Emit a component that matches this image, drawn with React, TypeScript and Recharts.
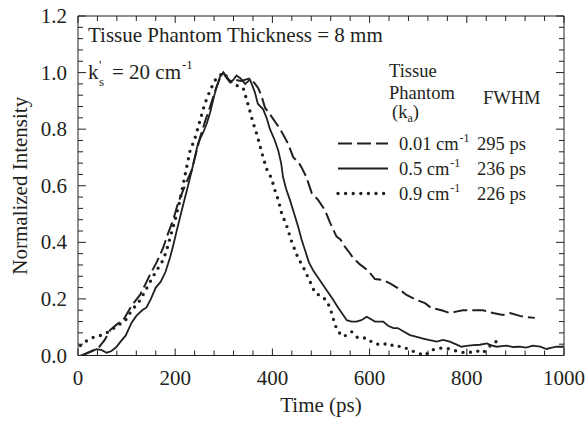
import { Line, LineChart, XAxis, YAxis } from "recharts";

// Time-resolved pulse profiles, three absorption levels.
const lowAbs: [number, number][] = [
  [8, 0], [20, 0.01], [41, 0.025], [55, 0.055], [66, 0.09], [80, 0.11], [93, 0.125],
  [110, 0.175], [128, 0.215], [148, 0.285], [162, 0.33], [175, 0.38], [185, 0.43],
  [196, 0.48], [206, 0.54], [220, 0.6], [234, 0.655], [251, 0.77], [262, 0.83],
  [272, 0.88], [285, 0.95], [292, 0.98], [299, 1.0], [306, 0.985], [313, 0.97],
  [322, 0.975], [335, 0.97], [345, 0.975], [355, 0.98], [362, 0.965], [371, 0.945],
  [378, 0.915], [385, 0.875], [398, 0.845], [408, 0.82], [416, 0.8], [432, 0.75],
  [443, 0.7], [453, 0.685], [460, 0.665], [470, 0.63], [481, 0.574], [494, 0.55],
  [508, 0.514], [519, 0.468], [532, 0.42], [540, 0.41], [549, 0.385], [558, 0.365],
  [566, 0.345], [580, 0.322], [597, 0.3], [611, 0.27], [628, 0.267], [642, 0.255],
  [658, 0.238], [676, 0.214], [697, 0.196], [714, 0.185], [727, 0.168], [748, 0.16],
  [765, 0.15], [778, 0.155], [792, 0.16], [813, 0.16], [833, 0.16], [854, 0.15],
  [874, 0.143], [889, 0.15], [909, 0.14], [925, 0.135], [940, 0.133]
];

const midAbs: [number, number][] = [
  [5, 0], [20, 0.008], [38, 0.022], [48, 0.02], [59, 0.01], [68, 0.015], [78, 0.028],
  [88, 0.05], [98, 0.07], [110, 0.115], [120, 0.14], [132, 0.16], [141, 0.17],
  [150, 0.2], [160, 0.24], [170, 0.26], [180, 0.295], [190, 0.35], [196, 0.39],
  [203, 0.44], [213, 0.51], [225, 0.59], [235, 0.66], [247, 0.75], [258, 0.79],
  [265, 0.82], [272, 0.86], [282, 0.93], [292, 0.985], [299, 1.0], [306, 0.98],
  [313, 0.965], [320, 0.975], [326, 0.99], [334, 0.98], [344, 0.96], [354, 0.975],
  [364, 0.93], [370, 0.89], [381, 0.87], [388, 0.84], [395, 0.8], [405, 0.76],
  [412, 0.725], [418, 0.68], [422, 0.63], [428, 0.59], [436, 0.55], [445, 0.5],
  [453, 0.455], [460, 0.41], [467, 0.373], [475, 0.33], [484, 0.3], [498, 0.265],
  [512, 0.23], [524, 0.2], [535, 0.17], [545, 0.145], [553, 0.125], [563, 0.12],
  [573, 0.12], [583, 0.125], [594, 0.137], [603, 0.128], [611, 0.12], [620, 0.12],
  [628, 0.12], [638, 0.105], [649, 0.097], [658, 0.097], [670, 0.085], [683, 0.072],
  [697, 0.066], [710, 0.06], [724, 0.054], [738, 0.049], [751, 0.055], [765, 0.049],
  [777, 0.04], [789, 0.031], [800, 0.034], [813, 0.037], [827, 0.038], [841, 0.043],
  [851, 0.036], [861, 0.031], [872, 0.033], [882, 0.035], [895, 0.03], [909, 0.031],
  [922, 0.028], [936, 0.035], [951, 0.031], [964, 0.023], [975, 0.028], [985, 0.031],
  [1000, 0.031]
];

const highAbs: [number, number][] = [
  [5, 0.035], [10, 0.044], [28, 0.062], [45, 0.07], [59, 0.08], [72, 0.095],
  [85, 0.11], [96, 0.12], [107, 0.15], [118, 0.175], [128, 0.196], [141, 0.237],
  [158, 0.29], [175, 0.337], [182, 0.37], [190, 0.42], [200, 0.48], [210, 0.55],
  [220, 0.635], [230, 0.72], [241, 0.77], [251, 0.83], [261, 0.89], [272, 0.938],
  [282, 0.973], [292, 0.99], [300, 1.0], [308, 0.98], [319, 0.96], [333, 0.95],
  [340, 0.945], [347, 0.905], [354, 0.862], [360, 0.824], [368, 0.782], [374, 0.744],
  [381, 0.7], [388, 0.66], [398, 0.627], [405, 0.585], [412, 0.55], [419, 0.503],
  [430, 0.455], [440, 0.4], [453, 0.344], [463, 0.314], [474, 0.274], [488, 0.22],
  [504, 0.208], [514, 0.186], [522, 0.15], [529, 0.108], [535, 0.085], [546, 0.066],
  [563, 0.084], [576, 0.062], [594, 0.062], [607, 0.044], [625, 0.037], [638, 0.044],
  [652, 0.031], [666, 0.033], [683, 0.019], [697, 0.01], [714, 0], [727, 0.019],
  [745, 0.026], [758, 0.026], [772, 0.019], [787, 0.012], [802, 0.009], [820, 0.017],
  [833, 0.009], [854, 0.044], [868, 0.055]
];

const xLabels = [0, 200, 400, 600, 800, 1000];
const yLabels = [0, 0.2, 0.4, 0.6, 0.8, 1.0, 1.2];
const xMinor = Array.from({ length: 26 }, (_, i) => i * 40);
const yMinor = Array.from({ length: 31 }, (_, i) => (i * 4) / 100);

const legendRows = [
  { ka: "0.01 cm", fwhm: "295 ps", dash: "14 5", width: 2, cap: "butt" },
  { ka: "0.5 cm", fwhm: "236 ps", dash: undefined, width: 2, cap: "butt" },
  { ka: "0.9 cm", fwhm: "226 ps", dash: "0 7.6", width: 3.4, cap: "round" }
];

const INK = "#231f20";
const FONT = "Liberation Serif, Times New Roman, DejaVu Serif, serif";

const toRows = (pts: [number, number][]) => pts.map(([t, v]) => ({ t, v }));

const isLabel = (v: number, labels: number[]) => labels.some((l) => Math.abs(l - v) < 1e-6);

const textStyle = { fontFamily: FONT, fontSize: 21, fill: INK };

function BottomTick({ x, y, payload }: any) {
  const major = isLabel(payload.value, xLabels);
  return (
    <g>
      <line x1={x} y1={y} x2={x} y2={y - (major ? 7 : 5)} stroke={INK} />
      {major && (
        <text x={x} y={y + 29.5} textAnchor="middle" fontFamily={FONT} style={textStyle}>
          {payload.value}
        </text>
      )}
    </g>
  );
}

function TopTick({ x, y, payload }: any) {
  const major = isLabel(payload.value, xLabels);
  return <line x1={x} y1={y} x2={x} y2={y + (major ? 7 : 5)} stroke={INK} />;
}

function LeftTick({ x, y, payload }: any) {
  const major = isLabel(payload.value, yLabels);
  return (
    <g>
      <line x1={x} y1={y} x2={x + (major ? 8 : 5)} y2={y} stroke={INK} />
      {major && (
        <text x={x - 11} y={y + 7} textAnchor="end" fontFamily={FONT} style={textStyle}>
          {payload.value.toFixed(1)}
        </text>
      )}
    </g>
  );
}

function RightTick({ x, y, payload }: any) {
  const major = isLabel(payload.value, yLabels);
  return <line x1={x} y1={y} x2={x - (major ? 8 : 5)} y2={y} stroke={INK} />;
}

export default function App() {
  return (
    <div
      style={{
        position: "absolute",
        left: 0,
        top: 0,
        width: 586,
        height: 421,
        background: "#fff",
        fontFamily: FONT
      }}
    >
      <LineChart
        width={586}
        height={421}
        margin={{ top: 6, right: 12, bottom: 15.5, left: 8 }}
        style={{ fontFamily: FONT }}
      >
        <XAxis
          type="number"
          dataKey="t"
          domain={[0, 1000]}
          allowDataOverflow
          ticks={xMinor}
          interval={0}
          height={50}
          tickSize={0}
          tickMargin={0}
          tickLine={false}
          tick={BottomTick}
          axisLine={{ stroke: INK }}
          label={{ value: "Time (ps)", position: "bottom", offset: -8.5, style: textStyle }}
        />
        <XAxis
          xAxisId="top"
          orientation="top"
          type="number"
          dataKey="t"
          domain={[0, 1000]}
          allowDataOverflow
          ticks={xMinor}
          interval={0}
          height={10}
          tickSize={0}
          tickMargin={0}
          tickLine={false}
          tick={TopTick}
          axisLine={{ stroke: INK }}
        />
        <YAxis
          type="number"
          dataKey="v"
          domain={[0, 1.2]}
          allowDataOverflow
          ticks={yMinor}
          interval={0}
          width={70}
          tickSize={0}
          tickMargin={0}
          tickLine={false}
          tick={LeftTick}
          axisLine={{ stroke: INK }}
          label={{
            value: "Normalized Intensity",
            angle: -90,
            position: "left",
            offset: -11.5,
            style: { ...textStyle, textAnchor: "middle" }
          }}
        />
        <YAxis
          yAxisId="right"
          orientation="right"
          type="number"
          dataKey="v"
          domain={[0, 1.2]}
          allowDataOverflow
          ticks={yMinor}
          interval={0}
          width={10}
          tickSize={0}
          tickMargin={0}
          tickLine={false}
          tick={RightTick}
          axisLine={{ stroke: INK }}
        />
        <Line
          data={toRows(lowAbs)}
          dataKey="v"
          type="linear"
          stroke={INK}
          strokeWidth={2}
          strokeDasharray="14 5"
          dot={false}
          isAnimationActive={false}
        />
        <Line
          data={toRows(midAbs)}
          dataKey="v"
          type="linear"
          stroke={INK}
          strokeWidth={1.8}
          dot={false}
          isAnimationActive={false}
        />
        <Line
          data={toRows(highAbs)}
          dataKey="v"
          type="linear"
          stroke={INK}
          strokeWidth={3.4}
          strokeDasharray="0 7.6"
          strokeLinecap="round"
          dot={false}
          isAnimationActive={false}
        />
      </LineChart>

      <svg
        width={586}
        height={421}
        fontFamily={FONT}
        style={{ position: "absolute", left: 0, top: 0, pointerEvents: "none", fontFamily: FONT, fill: INK }}
      >
        <text x={88} y={41.5} fontSize={21}>Tissue Phantom Thickness = 8 mm</text>
        <text x={88} y={79} fontSize={21}>k</text>
        <text x={99} y={69} fontSize={13}>'</text>
        <text x={99} y={86} fontSize={13}>s</text>
        <text x={112} y={79} fontSize={21}>
          = 20 cm
          <tspan dx={1} dy={-10} fontSize={13}>-1</tspan>
        </text>

        <text x={389} y={77} fontSize={18.5}>Tissue</text>
        <text x={389} y={99} fontSize={18.5}>Phantom</text>
        <text x={392} y={118} fontSize={18.5}>
          (k
          <tspan dy={4} fontSize={12}>a</tspan>
          <tspan dy={-4}>)</tspan>
        </text>
        <text x={483} y={104} fontSize={18.5}>FWHM</text>

        {legendRows.map((r, i) => {
          const base = 150 + i * 25;
          return (
            <g key={r.ka}>
              <line
                x1={338}
                x2={388}
                y1={base - 6.5}
                y2={base - 6.5}
                stroke={INK}
                strokeWidth={r.width}
                strokeDasharray={r.dash}
                strokeLinecap={r.cap as any}
              />
              <text x={399} y={base} fontSize={18.5}>
                {r.ka}
                <tspan dx={1} dy={-8} fontSize={12}>-1</tspan>
              </text>
              <text x={477} y={base} fontSize={18.5}>{r.fwhm}</text>
            </g>
          );
        })}
      </svg>
    </div>
  );
}
